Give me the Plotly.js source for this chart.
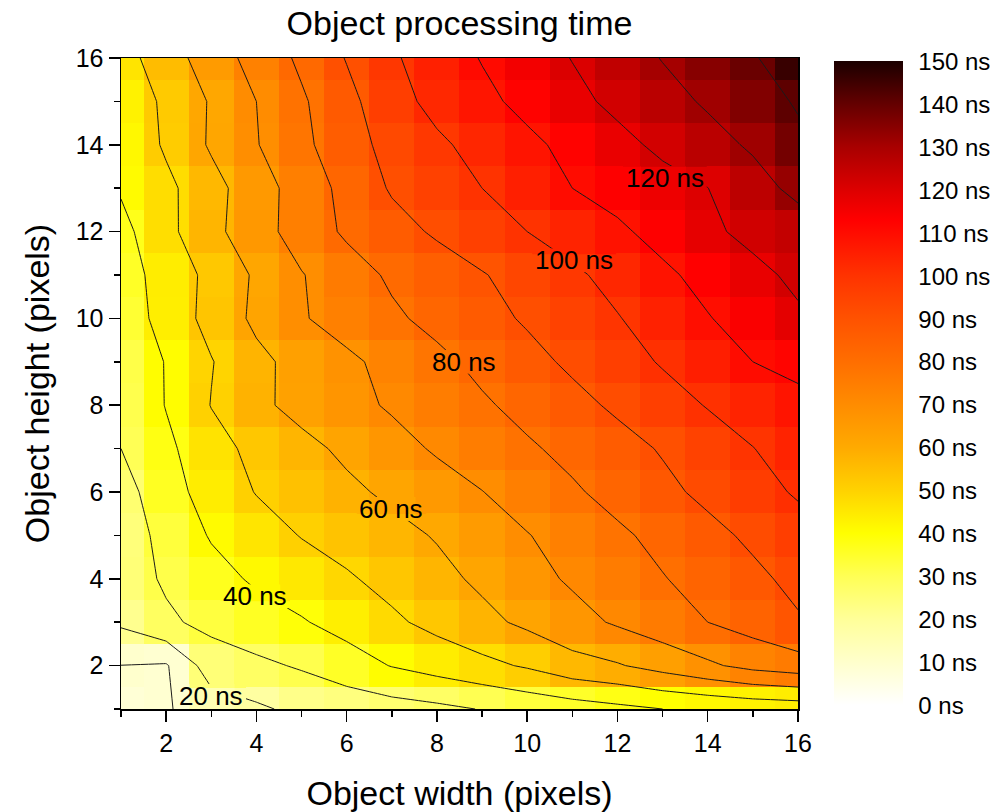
<!DOCTYPE html>
<html>
<head>
<meta charset="utf-8">
<script src="https://cdn.plot.ly/plotly-3.0.1.min.js"></script>
<style>html,body{margin:0;padding:0;background:#fff;}#chart{width:999px;height:812px;}</style>
</head>
<body>
<div id="chart"></div>
<script>
// Object width (x) and height (y) in pixels
var widths  = [1,2,3,4,5,6,7,8,9,10,11,12,13,14,15,16];
var heights = [1,2,3,4,5,6,7,8,9,10,11,12,13,14,15,16];

// Processing time (ns), one array per object height, values for widths 1..16
var h1  = [8.0, 9.1, 15.0, 18.5, 22.3, 24.0, 26.0, 27.8, 30.4, 32.9, 35.2, 37.6, 40.0, 41.5, 43.0, 44.0];
var h2  = [9.9, 9.1, 25.0, 28.0, 31.0, 35.5, 40.4, 44.0, 47.4, 51.1, 56.5, 59.2, 63.7, 68.4, 73.0, 75.7];
var h3  = [21.5, 28.4, 32.6, 35.9, 39.2, 43.6, 48.3, 52.8, 57.4, 62.0, 66.6, 71.2, 75.6, 80.0, 84.0, 89.0];
var h4  = [25.0, 31.3, 36.6, 41.4, 45.1, 48.9, 53.0, 57.3, 61.8, 66.7, 71.3, 75.4, 79.5, 83.7, 87.9, 92.5];
var h5  = [24.6, 33.0, 40.8, 45.7, 50.4, 53.7, 57.1, 60.7, 65.1, 69.6, 73.9, 78.3, 82.7, 87.3, 91.8, 96.3];
var h6  = [26.0, 36.0, 44.1, 50.4, 54.2, 58.0, 61.8, 65.8, 69.8, 74.3, 78.7, 83.2, 87.7, 92.2, 96.7, 101.0];
var h7  = [30.0, 37.9, 46.3, 52.7, 57.3, 61.9, 66.6, 71.1, 74.9, 78.7, 82.6, 86.6, 90.8, 95.3, 99.8, 104.0];
var h8  = [31.0, 40.4, 50.3, 57.9, 63.0, 67.1, 71.1, 74.9, 78.7, 82.9, 87.2, 91.6, 96.1, 100.5, 104.0, 108.0];
var h9  = [31.5, 40.5, 49.5, 57.6, 63.3, 68.1, 72.9, 77.7, 82.5, 87.1, 91.7, 96.2, 100.8, 105.4, 110.0, 112.0];
var h10 = [34.0, 43.7, 53.3, 62.0, 69.2, 73.9, 78.4, 82.7, 86.9, 91.1, 95.3, 99.5, 104.5, 109.5, 114.0, 118.6];
var h11 = [35.5, 44.0, 52.6, 61.4, 69.5, 75.6, 81.5, 85.2, 89.4, 93.8, 98.3, 103.1, 108.2, 112.9, 117.5, 122.0];
var h12 = [37.0, 47.3, 57.2, 66.0, 74.3, 81.5, 86.5, 91.3, 95.7, 100.0, 104.2, 108.4, 113.1, 118.2, 122.5, 125.0];
var h13 = [41.0, 47.6, 56.6, 65.6, 74.3, 82.9, 91.0, 95.5, 100.0, 105.0, 110.0, 113.3, 116.6, 119.9, 126.2, 132.6];
var h14 = [41.5, 51.4, 61.2, 69.5, 77.6, 86.1, 93.0, 98.3, 103.2, 107.9, 112.6, 117.3, 122.0, 126.6, 131.3, 137.7];
var h15 = [42.9, 51.9, 60.9, 70.0, 78.7, 87.2, 96.3, 102.9, 107.7, 112.6, 117.5, 122.2, 126.7, 131.2, 135.7, 141.0];
var h16 = [46.0, 55.4, 64.9, 73.6, 81.8, 90.5, 98.7, 104.9, 110.5, 115.4, 120.3, 125.4, 130.4, 134.8, 139.1, 146.0];

var timeNs = [h1, h2, h3, h4, h5, h6, h7, h8, h9, h10, h11, h12, h13, h14, h15, h16];

var colorbarTicks = [0,10,20,30,40,50,60,70,80,90,100,110,120,130,140,150];
var labelledLevels = [20, 40, 60, 80, 100, 120];

var FONT = 'Liberation Sans, Arial, sans-serif';
var ZMAX = 150;
var LABEL_SIZE = 26;

var hotScale = [
  [0.0,    '#ffffff'],
  [0.0667, '#ffffcc'],
  [0.1333, '#ffff99'],
  [0.2,    '#ffff55'],
  [0.2667, '#ffff00'],
  [0.3333, '#ffd200'],
  [0.4,    '#ffaa00'],
  [0.4667, '#ff8c00'],
  [0.5333, '#ff6e00'],
  [0.6,    '#ff5200'],
  [0.6667, '#ff3300'],
  [0.7533, '#ff0000'],
  [0.8,    '#dd0000'],
  [0.8667, '#a80000'],
  [0.9333, '#640000'],
  [1.0,    '#1a0000']
];

var heat = {
  type: 'heatmap',
  x: widths, y: heights, z: timeNs,
  zmin: 0, zmax: ZMAX,
  colorscale: hotScale,
  zsmooth: false,
  hoverinfo: 'skip',
  colorbar: {
    x: 1.0532, xanchor: 'left', xpad: 0,
    y: 0.5, yanchor: 'middle', ypad: 0,
    len: 644, lenmode: 'pixels',
    thickness: 69, thicknessmode: 'pixels',
    outlinewidth: 0,
    tickmode: 'array', tickvals: colorbarTicks,
    ticktext: colorbarTicks.map(function(v){ return v + ' ns'; }),
    ticks: 'outside', ticklen: 11, tickcolor: 'rgba(0,0,0,0)',
    tickfont: {family: FONT, size: 24, color: '#000'}
  }
};

var lines = {
  type: 'contour',
  x: widths, y: heights, z: timeNs,
  showscale: false,
  hoverinfo: 'skip',
  contours: {start: 10, end: 140, size: 10, coloring: 'none', showlabels: false},
  line: {color: '#1a1a1a', width: 1, smoothing: 0}
};

// where each level label sits (layout, in axis units)
var labelSpots = [[3.0, 1.3], [3.97, 3.6], [6.99, 5.61], [8.59, 9.0], [11.04, 11.34], [13.05, 13.24]];
var PX_PER_X = 677 / 15, PX_PER_Y = 651 / 15;

// Gap patches: re-paint the heatmap cells (nearest cell value) over the contour lines under each label
function cellValue(x, y) {
  var i = Math.min(15, Math.max(0, Math.round(x) - 1));
  var j = Math.min(15, Math.max(0, Math.round(y) - 1));
  return timeNs[j][i];
}
var gapTraces = labelledLevels.map(function(level, k) {
  var txt = level + ' ns';
  var digits = String(level).length;
  var wPx = (digits * 0.556 + 1.334) * LABEL_SIZE + 6;
  var hPx = 24;
  var cx = labelSpots[k][0], cy = labelSpots[k][1];
  var x0 = cx - wPx / 2 / PX_PER_X, x1 = cx + wPx / 2 / PX_PER_X;
  var y0 = cy - hPx / 2 / PX_PER_Y, y1 = cy + hPx / 2 / PX_PER_Y;
  var nx = Math.ceil(wPx) + 1, ny = Math.ceil(hPx) + 1;
  var gx = [], gy = [], gz = [];
  for (var i = 0; i < nx; i++) gx.push(x0 + (x1 - x0) * i / (nx - 1));
  for (var j = 0; j < ny; j++) gy.push(y0 + (y1 - y0) * j / (ny - 1));
  for (var j2 = 0; j2 < ny; j2++) {
    var row = [];
    for (var i2 = 0; i2 < nx; i2++) row.push(cellValue(gx[i2], gy[j2]));
    gz.push(row);
  }
  return {
    type: 'contour', x: gx, y: gy, z: gz,
    zmin: 0, zmax: ZMAX, zauto: false, colorscale: hotScale,
    showscale: false, hoverinfo: 'skip',
    contours: {coloring: 'heatmap', showlines: false, start: 1000, end: 1001, size: 1},
    line: {width: 0}
  };
});

var annotations = labelledLevels.map(function(level, i) {
  return {
    text: level + ' ns', x: labelSpots[i][0], y: labelSpots[i][1], xref: 'x', yref: 'y',
    showarrow: false, xanchor: 'center', yanchor: 'middle',
    font: {family: FONT, size: LABEL_SIZE, color: '#000'}
  };
});

var axisCommon = {
  range: [1, 16],
  showgrid: false, zeroline: false,
  showline: true, linecolor: '#000', linewidth: 1.5, mirror: true,
  ticks: 'outside', ticklen: 11, tickwidth: 1.5, tickcolor: '#000',
  tick0: 0, dtick: 2,
  minor: {ticks: 'outside', dtick: 1, ticklen: 6, tickwidth: 1.5, tickcolor: '#000'},
  tickfont: {family: FONT, size: 25, color: '#000'}
};

var layout = {
  width: 999, height: 812,
  margin: {l: 121, r: 201, t: 58, b: 103, autoexpand: false},
  paper_bgcolor: '#fff', plot_bgcolor: '#fff',
  font: {family: FONT, color: '#000'},
  title: {
    text: 'Object processing time',
    font: {family: FONT, size: 34, color: '#000'},
    x: 0.5, xref: 'paper', xanchor: 'center',
    y: 0.972, yref: 'container', yanchor: 'middle'
  },
  xaxis: Object.assign({}, axisCommon, {
    title: {text: 'Object width (pixels)', font: {family: FONT, size: 34, color: '#000'}, standoff: 26}
  }),
  yaxis: Object.assign({}, axisCommon, {
    title: {text: 'Object height (pixels)', font: {family: FONT, size: 34, color: '#000'}, standoff: 16}
  }),
  annotations: annotations,
  showlegend: false
};

Plotly.newPlot('chart', [heat, lines].concat(gapTraces), layout, {staticPlot: true});
</script>
</body>
</html>
